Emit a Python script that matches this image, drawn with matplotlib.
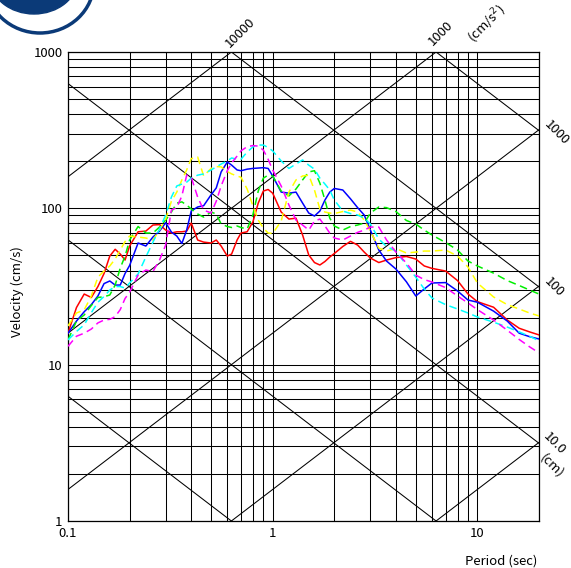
import numpy as np
import matplotlib
matplotlib.use("Agg")
import matplotlib.pyplot as plt
from matplotlib.ticker import LogLocator, NullFormatter
from matplotlib.patches import Ellipse, Arc

plt.rcParams['font.family'] = ['Noto Sans CJK JP', 'DejaVu Sans']

# Pseudo-velocity response spectra (h = 5%), six records
period = [0.10, 0.11, 0.12, 0.13, 0.14, 0.15, 0.16, 0.17, 0.18, 0.19,
          0.20, 0.22, 0.24, 0.26, 0.28, 0.30, 0.32, 0.34, 0.36, 0.38,
          0.40, 0.43, 0.46, 0.50, 0.53, 0.56, 0.60, 0.63, 0.67, 0.70,
          0.75, 0.80, 0.85, 0.90, 0.95, 1.0, 1.1, 1.2, 1.3, 1.4,
          1.5, 1.6, 1.7, 1.8, 1.9, 2.0, 2.2, 2.4, 2.6, 2.8,
          3.0, 3.3, 3.6, 4.0, 4.5, 5.0, 5.5, 6.0, 7.0, 8.0,
          9.0, 10, 12, 14, 16, 18, 20]

sv_red = [15.9, 23.2, 28.3, 26.9, 31.6, 38.3, 49.5, 54.7, 51.0, 46.7,
          57.4, 70.8, 71.5, 78.2, 78.7, 72.6, 69.5, 70.8, 70.8, 71.5,
          80.5, 62.7, 60.8, 60.0, 62.7, 57.4, 49.5, 51.0, 62.7, 69.5,
          70.8, 81.7, 108, 129, 132, 125, 94.7, 85.4, 86.5, 67.5,
          50.3, 45.0, 43.4, 45.7, 48.8, 51.4, 57.0, 61.5, 58.2, 52.5,
          48.1, 45.0, 46.7, 48.4, 49.2, 47.4, 42.8, 41.3, 39.7, 34.5,
          28.3, 25.3, 23.3, 19.3, 17.1, 16.2, 15.5]

sv_blue = [15.9, 19.0, 21.8, 24.2, 27.5, 33.0, 34.3, 32.3, 32.3, 38.3,
           43.1, 60.0, 57.4, 65.5, 71.5, 80.9, 70.5, 66.5, 59.6, 72.6,
           96.1, 102, 104, 122, 135, 171, 198, 189, 176, 174,
           178, 180, 181, 182, 180, 161, 127, 125, 127, 108,
           93.3, 89.3, 96.1, 113, 127, 134, 131, 115, 101, 90.6,
           72.6, 54.1, 46.0, 40.9, 33.9, 27.5, 30.5, 33.3, 33.5, 29.6,
           25.9, 25.1, 22.0, 19.0, 15.9, 15.1, 14.6]

sv_green = [14.4, 19.0, 20.8, 23.9, 26.9, 27.2, 27.9, 32.3, 41.5, 49.5,
            62.7, 76.5, 69.5, 69.5, 75.9, 84.1, 94.7, 108, 110, 105,
            99.0, 92.0, 87.9, 94.7, 92.0, 79.4, 76.5, 75.4, 77.1, 75.4,
            73.7, 90.6, 129, 156, 163, 161, 129, 120, 133, 152,
            171, 174, 145, 113, 86.7, 77.1, 72.6, 76.5, 78.2, 80.5,
            93.3, 102, 101, 95.4, 83.6, 79.4, 72.6, 67.5, 60.4, 54.1,
            46.0, 42.8, 38.5, 34.5, 32.1, 30.0, 28.3]

sv_yellow = [17.7, 21.4, 22.4, 27.5, 36.3, 39.7, 42.8, 47.4, 54.1, 61.3,
             66.5, 65.5, 64.6, 62.7, 72.6, 85.4, 111, 127, 152, 176,
             208, 213, 161, 180, 185, 184, 172, 166, 161, 158,
             133, 104, 84.1, 74.8, 69.5, 69.0, 82.9, 127, 152, 161,
             163, 131, 99.0, 94.7, 93.3, 92.6, 95.4, 97.5, 94.7, 84.1,
             71.5, 55.7, 53.3, 55.3, 51.8, 52.5, 53.3, 53.3, 54.1, 49.5,
             42.1, 33.3, 27.1, 24.2, 22.7, 21.4, 20.5]

sv_cyan = [14.4, 16.3, 18.0, 21.5, 25.1, 27.3, 30.0, 31.6, 31.6, 30.9,
           33.3, 38.0, 48.8, 60.8, 73.7, 90.6, 118, 139, 143, 147,
           156, 163, 166, 176, 184, 192, 201, 210, 206, 206,
           229, 247, 254, 254, 245, 233, 201, 180, 192, 204,
           189, 178, 156, 143, 131, 113, 96.1, 92.6, 90.6, 86.7,
           79.4, 63.6, 57.0, 53.3, 43.4, 36.3, 30.5, 26.7, 24.2, 22.7,
           21.4, 20.2, 18.7, 17.4, 16.2, 15.2, 14.2]

sv_magenta = [13.1, 15.2, 15.9, 16.9, 18.5, 19.3, 19.5, 20.3, 22.5, 26.5,
              29.1, 37.4, 40.3, 39.4, 46.7, 58.2, 97.5, 101, 120, 163,
              158, 118, 97.5, 93.3, 111, 139, 174, 195, 216, 233,
              248, 252, 250, 236, 206, 176, 139, 105, 84.1, 78.2,
              72.6, 82.9, 85.4, 77.1, 69.5, 64.6, 62.7, 66.5, 70.2, 72.6,
              75.9, 75.9, 62.7, 52.5, 44.7, 37.4, 35.0, 33.8, 31.1, 27.5,
              24.8, 22.5, 19.3, 16.6, 14.5, 13.0, 11.9]

series = [
    (sv_red, '#ff0000', '-'),
    (sv_blue, '#0000ff', '-'),
    (sv_green, '#00ee00', (0, (5, 3))),
    (sv_yellow, '#ffff00', (0, (5, 3))),
    (sv_cyan, '#00ffff', (0, (5, 3))),
    (sv_magenta, '#ff00ff', (0, (5, 3))),
]

# Tripartite guide lines: constant displacement (cm) and acceleration (cm/s^2)
disp_lines = [0.01, 0.1, 1, 10, 100, 1000, 10000]
acc_lines = [1, 10, 100, 1000, 10000, 100000]

x_ticks = [0.1, 1, 10]
x_tick_labels = ['0.1', '1', '10']
y_ticks = [1, 10, 100, 1000]
y_tick_labels = ['1', '10', '100', '1000']

FS = 9.5
W, H = 571, 568
fig = plt.figure(figsize=(W / 100, H / 100), dpi=100)
ax = fig.add_axes([68 / W, 1 - 521 / H, 471 / W, 469 / H])
ax.set_xscale('log')
ax.set_yscale('log')
ax.set_xlim(0.1, 20)
ax.set_ylim(1, 1000)

ax.xaxis.set_minor_locator(LogLocator(base=10, subs=range(2, 10)))
ax.yaxis.set_minor_locator(LogLocator(base=10, subs=range(2, 10)))
ax.xaxis.set_minor_formatter(NullFormatter())
ax.yaxis.set_minor_formatter(NullFormatter())
ax.grid(which='both', color='black', lw=0.75)
ax.set_axisbelow(True)
ax.tick_params(which='both', length=0, labelsize=FS, pad=4)
ax.set_xticks(x_ticks, x_tick_labels)
ax.set_yticks(y_ticks, y_tick_labels)
for sp in ax.spines.values():
    sp.set_linewidth(0.9)

t = np.logspace(-1, np.log10(20), 200)
for d in disp_lines:
    ax.plot(t, 2 * np.pi * d / t, color='black', lw=0.75, zorder=1)
for a in acc_lines:
    ax.plot(t, a * t / (2 * np.pi), color='black', lw=0.75, zorder=1)
ax.set_xlim(0.1, 20)
ax.set_ylim(1, 1000)

for sv, col, ls in series:
    ax.plot(period, sv, color=col, ls=ls, lw=1.1, zorder=3)

ax.set_xlabel('Period (sec)', fontsize=FS)
ax.xaxis.set_label_coords(0.92, -0.072)
ax.set_ylabel('Velocity (cm/s)', fontsize=FS)
ax.yaxis.set_label_coords(-0.093, 0.49)


def ftext(x, y, s, **kw):
    fig.text(x / W, 1 - y / H, s, ha='center', va='center', fontsize=FS, **kw)


ftext(240, 33, '10000', rotation=45)
ftext(441, 33, '1000', rotation=45)
ftext(487, 24, '(cm/s$^2$)', rotation=45)
ftext(557, 133, '1000', rotation=-45)
ftext(554, 287, '100', rotation=-45)
ftext(554, 444, '10.0', rotation=-45)
ftext(552, 466, '(cm)', rotation=-45)

# Logo fragment at the upper left corner
navy = '#0b3a78'
fig.patches.append(Ellipse((34 / W, 1 + 22 / H), 88 / W, 72 / H,
                           transform=fig.transFigure, color=navy, zorder=5))
fig.patches.append(Arc((40 / W, 1 + 18 / H), 108 / W, 102 / H,
                       theta1=180, theta2=360, transform=fig.transFigure,
                       color=navy, lw=2.5, zorder=5))

fig.savefig('out.png', dpi=100)
